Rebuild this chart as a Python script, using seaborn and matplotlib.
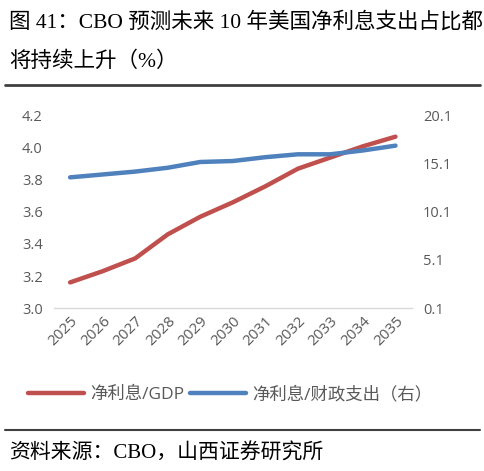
import pandas as pd
import matplotlib.pyplot as plt
import seaborn as sns

years = ['2025', '2026', '2027', '2028', '2029', '2030',
         '2031', '2032', '2033', '2034', '2035']
interest_gdp = [3.16, 3.23, 3.31, 3.46, 3.57, 3.66, 3.76, 3.87, 3.94, 4.01, 4.07]
interest_outlays = [13.7, 14.0, 14.3, 14.7, 15.3, 15.4, 15.8, 16.1, 16.1, 16.5, 17.0]

left_ticks = [3.0, 3.2, 3.4, 3.6, 3.8, 4.0, 4.2]
right_ticks = [0.1, 5.1, 10.1, 15.1, 20.1]

title_l1 = '图 41：CBO 预测未来 10 年美国净利息支出占比都'
title_l2 = '将持续上升（%）'
source = '资料来源：CBO，山西证券研究所'
label_red = '净利息/GDP'
label_blue = '净利息/财政支出（右）'

sns.set_style('white')
plt.rcParams['font.family'] = ['Open Sans', 'Noto Sans CJK SC', 'DejaVu Sans']

df = pd.DataFrame({'year': years, 'gdp': interest_gdp, 'outlays': interest_outlays})

red = '#C0504D'
blue = '#4F81BD'
grey = '#595959'

fig = plt.figure(figsize=(4.85, 4.71), dpi=100)
ax = fig.add_axes([0.111, 0.346, 0.738, 0.408])
ax2 = ax.twinx()

sns.lineplot(data=df, x='year', y='gdp', ax=ax, color=red, linewidth=3.2, label=label_red, legend=False)
sns.lineplot(data=df, x='year', y='outlays', ax=ax2, color=blue, linewidth=3.2, label=label_blue, legend=False)

ax.set_xlim(-0.5, len(years) - 0.5)
ax.set_ylim(3.0, 4.2)
ax.set_yticks(left_ticks)
ax.set_yticklabels([f'{v:.1f}' for v in left_ticks])
ax2.set_ylim(0.1, 20.1)
ax2.set_yticks(right_ticks)
ax2.set_yticklabels([f'{v:.1f}' for v in right_ticks])

for a in (ax, ax2):
    for s in a.spines.values():
        s.set_visible(False)
    a.set_xlabel('')
    a.set_ylabel('')
    a.tick_params(length=0, labelsize=10.5, labelcolor=grey, pad=8)
ax.spines['bottom'].set_visible(True)
ax.spines['bottom'].set_color('#D9D9D9')
ax.spines['bottom'].set_linewidth(1)
ax.tick_params(axis='x', pad=4, labelsize=11)
for t in ax.get_xticklabels():
    t.set_rotation(45)
    t.set_ha('right')
    t.set_rotation_mode('anchor')

h1, l1 = ax.get_legend_handles_labels()
h2, l2 = ax2.get_legend_handles_labels()
fig.legend(h1 + h2, l1 + l2, loc='center', bbox_to_anchor=(0.475, 0.162), ncol=2,
           frameon=False, fontsize=12.5, labelcolor=grey, handlelength=3.2,
           handletextpad=0.4, columnspacing=0.3)

title_font = ['Liberation Serif', 'Noto Sans CJK SC']
fig.text(0.018, 0.953, title_l1, fontsize=15.5, family=title_font, va='center', color='black')
fig.text(0.018, 0.870, title_l2, fontsize=15.5, family=title_font, va='center', color='black')
fig.add_artist(plt.Line2D([0.01, 0.99], [0.82, 0.82], color='#404040', linewidth=2))
fig.add_artist(plt.Line2D([0.01, 0.99], [0.087, 0.087], color='#404040', linewidth=1.5))
fig.text(0.018, 0.037, source, fontsize=15, family=title_font, va='center', color='black')

fig.savefig('out.png', dpi=100)
